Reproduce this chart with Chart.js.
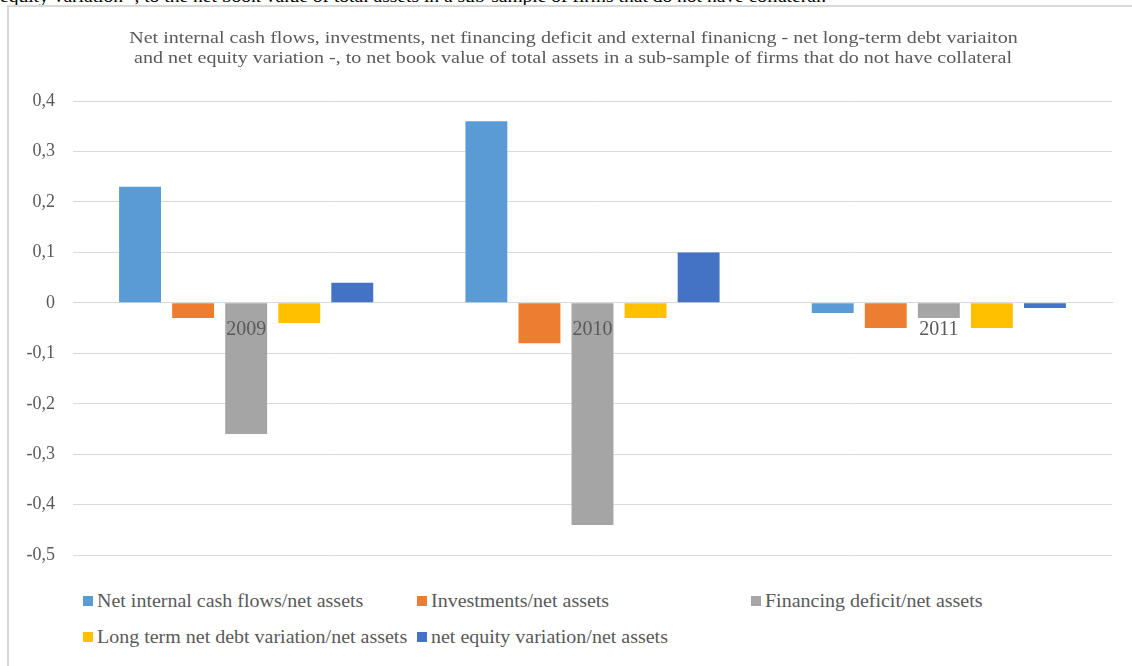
<!DOCTYPE html>
<html>
<head>
<meta charset="utf-8">
<script src="https://cdn.jsdelivr.net/npm/chart.js@4.4.1/dist/chart.umd.min.js"></script>
<style>
  html, body { margin: 0; padding: 0; background: #fff; }
  body { width: 1132px; height: 666px; position: relative; overflow: hidden; font-family: "Liberation Serif", "Times New Roman", serif; }
  #caption { position: absolute; left: 0; top: -11.5px; font-size: 16px; line-height: 16px; color: #000; white-space: nowrap; transform: scaleX(1.22); transform-origin: left top; }
  #frame { position: absolute; left: 7px; top: 5px; width: 1140px; height: 700px; border-left: 2px solid #d9d9d9; border-top: 2px solid #d9d9d9; }
  #wrap { position: absolute; left: 0; top: 0; width: 1132px; height: 584px; }
  #title { position: absolute; left: 0; top: 28px; width: 1147px; text-align: center; color: #595959; font-size: 17px; line-height: 20px; }
  #title div span { display: inline-block; white-space: nowrap; transform: scaleX(1.18); }
  #legend { position: absolute; left: 83px; top: 590px; width: 1040px; color: #595959; font-size: 18px; }
  .item { position: absolute; white-space: nowrap; line-height: 22px; }
  .item span.box { display: inline-block; width: 10px; height: 10px; margin-right: 4px; vertical-align: 1px; }
  .item span.txt { display: inline-block; transform: scaleX(1.11); transform-origin: left center; }
</style>
</head>
<body>
<div id="caption">equity variation -, to the net book value of total assets in a sub-sample of firms that do not have collateral.</div>
<div id="frame"></div>
<div id="wrap"><canvas id="fundingChart"></canvas></div>
<div id="title"></div>
<div id="legend"></div>

<script>
const years = ["2009", "2010", "2011"];

const cashFlows = [0.23, 0.36, -0.02];
const investments = [-0.03, -0.08, -0.05];
const financingDeficit = [-0.26, -0.44, -0.03];
const debtVariation = [-0.04, -0.03, -0.05];
const equityVariation = [0.04, 0.10, -0.01];

const seriesNames = [
    "Net internal cash flows/net assets",
    "Investments/net assets",
    "Financing deficit/net assets",
    "Long term net debt variation/net assets",
    "net equity variation/net assets"
];
const seriesColors = ["#5B9BD5", "#ED7D31", "#A5A5A5", "#FFC000", "#4472C4"];
const seriesValues = [cashFlows, investments, financingDeficit, debtVariation, equityVariation];

const titleLines = [
    "Net internal cash flows, investments, net financing deficit and external finanicng - net long-term debt variaiton",
    "and net equity variation -, to net book value of total assets in a sub-sample of firms that do not have collateral"
];

const textColor = "#595959";
const gridColor = "#d9d9d9";
const serif = "'Liberation Serif', 'Times New Roman', serif";

const ctx = document.getElementById("fundingChart").getContext("2d");

const chart = new Chart(ctx, {
    type: "bar",
    data: {
        labels: years,
        datasets: seriesNames.map((name, i) => ({
            label: name,
            data: seriesValues[i],
            backgroundColor: seriesColors[i],
            borderWidth: 0,
            categoryPercentage: 0.766,
            barPercentage: 0.79
        }))
    },
    options: {
        responsive: true,
        maintainAspectRatio: false,
        animation: false,
        layout: { padding: { left: 0, right: 20, top: 101, bottom: 21 } },
        plugins: {
            legend: { display: false },
            tooltip: { enabled: false },
            title: { display: false }
        },
        scales: {
            x: {
                position: { y: 0 },
                grid: { display: false, drawTicks: false },
                border: { display: true, color: gridColor, width: 1 },
                ticks: {
                    z: 1,
                    color: textColor,
                    font: { family: serif, size: 20 },
                    padding: 15
                }
            },
            y: {
                min: -0.5,
                max: 0.4,
                afterFit: (axis) => { axis.width = 73; },
                grid: { color: gridColor, lineWidth: 1, drawTicks: false },
                border: { display: false },
                ticks: {
                    stepSize: 0.1,
                    padding: 18,
                    color: textColor,
                    font: { family: serif, size: 18 },
                    callback: (v) => {
                        const r = Math.round(v * 10) / 10;
                        return r === 0 ? "0" : r.toFixed(1).replace(".", ",");
                    }
                }
            }
        }
    }
});

// two-line heading above the plot
const title = document.getElementById("title");
titleLines.forEach(line => {
    const row = document.createElement("div");
    row.innerHTML = `<span>${line}</span>`;
    title.appendChild(row);
});

// legend laid out in three fixed columns, like the spreadsheet original
const legend = document.getElementById("legend");
const colX = [0, 334, 668];
const rowY = [0, 36];
seriesNames.forEach((name, i) => {
    const el = document.createElement("div");
    el.className = "item";
    el.style.left = colX[i % 3] + "px";
    el.style.top = rowY[Math.floor(i / 3)] + "px";
    el.innerHTML = `<span class="box" style="background:${seriesColors[i]}"></span><span class="txt">${name}</span>`;
    legend.appendChild(el);
});
</script>
</body>
</html>
